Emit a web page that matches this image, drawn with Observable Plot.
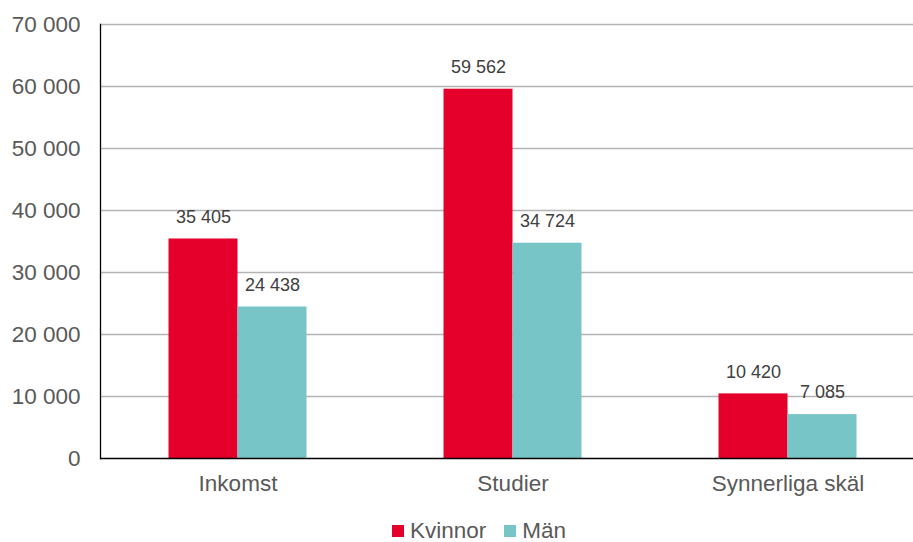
<!DOCTYPE html>
<html>
<head>
<meta charset="utf-8">
<script src="https://cdn.jsdelivr.net/npm/d3@7"></script>
<script src="https://cdn.jsdelivr.net/npm/@observablehq/plot@0.6"></script>
<style>
  html, body { margin: 0; padding: 0; background: #fff; overflow: hidden; }
  #legend { display: flex; align-items: center; padding-left: 392px; padding-top: 14px;
    font-family: "Liberation Sans", Arial, sans-serif; font-size: 22.5px; color: #595959; line-height: 23px; }
  .sw { width: 12px; height: 12px; display: inline-block; margin-right: 6px; }
  .item { display: flex; align-items: center; margin-right: 18px; }
</style>
</head>
<body>
<div id="chart"></div>
<div id="legend"></div>
<script>
const categories = ["Inkomst", "Studier", "Synnerliga skäl"];
const series = ["Kvinnor", "Män"];
const kvinnor = [35405, 59562, 10420];
const man = [24438, 34724, 7085];
const colors = ["#e4002b", "#78c5c8"];
const yTicks = [0, 10000, 20000, 30000, 40000, 50000, 60000, 70000];

const table = [];
categories.forEach((c, i) => {
  table.push({category: c, series: series[0], value: kvinnor[i]});
  table.push({category: c, series: series[1], value: man[i]});
});

const fmt = d => d3.format(",")(d).replace(/,/g, " ");

const chart = Plot.plot({
  width: 913,
  height: 505,
  marginLeft: 100,
  marginRight: -12,
  marginTop: 24,
  marginBottom: 47,
  style: {fontFamily: "'Liberation Sans', Arial, sans-serif", background: "white", overflow: "hidden"},
  fx: {domain: categories, padding: 0, label: null},
  x: {domain: series, paddingInner: 0, paddingOuter: 0.993, round: false, axis: null},
  y: {domain: [0, 70000], label: null},
  color: {domain: series, range: colors},
  marks: [
    Plot.ruleY(yTicks.slice(1), {stroke: "#b4b4b4", strokeWidth: 1.3}),
    Plot.barY(table, {fx: "category", x: "series", y: "value", fill: "series"}),
    Plot.ruleY([0], {stroke: "#000", strokeWidth: 1.3}),
    Plot.frame({anchor: "left", facetAnchor: "left", stroke: "#000", strokeWidth: 1.3}),
    Plot.axisY({ticks: yTicks, tickFormat: fmt, tickSize: 0, tickPadding: 20, fontSize: 22.5, fill: "#595959", label: null}),
    Plot.axisFx({anchor: "bottom", tickSize: 0, tickPadding: 17, fontSize: 22.5, fill: "#595959", label: null}),
    Plot.text(table, {fx: "category", x: "series", y: "value", text: d => fmt(d.value), dy: -22, fontSize: 18, fill: "#404040"})
  ]
});
document.getElementById("chart").appendChild(chart);

const legend = document.getElementById("legend");
series.forEach((s, i) => {
  const item = document.createElement("span");
  item.className = "item";
  const sw = document.createElement("span");
  sw.className = "sw";
  sw.style.background = colors[i];
  item.appendChild(sw);
  item.appendChild(document.createTextNode(s));
  legend.appendChild(item);
});
</script>
</body>
</html>
